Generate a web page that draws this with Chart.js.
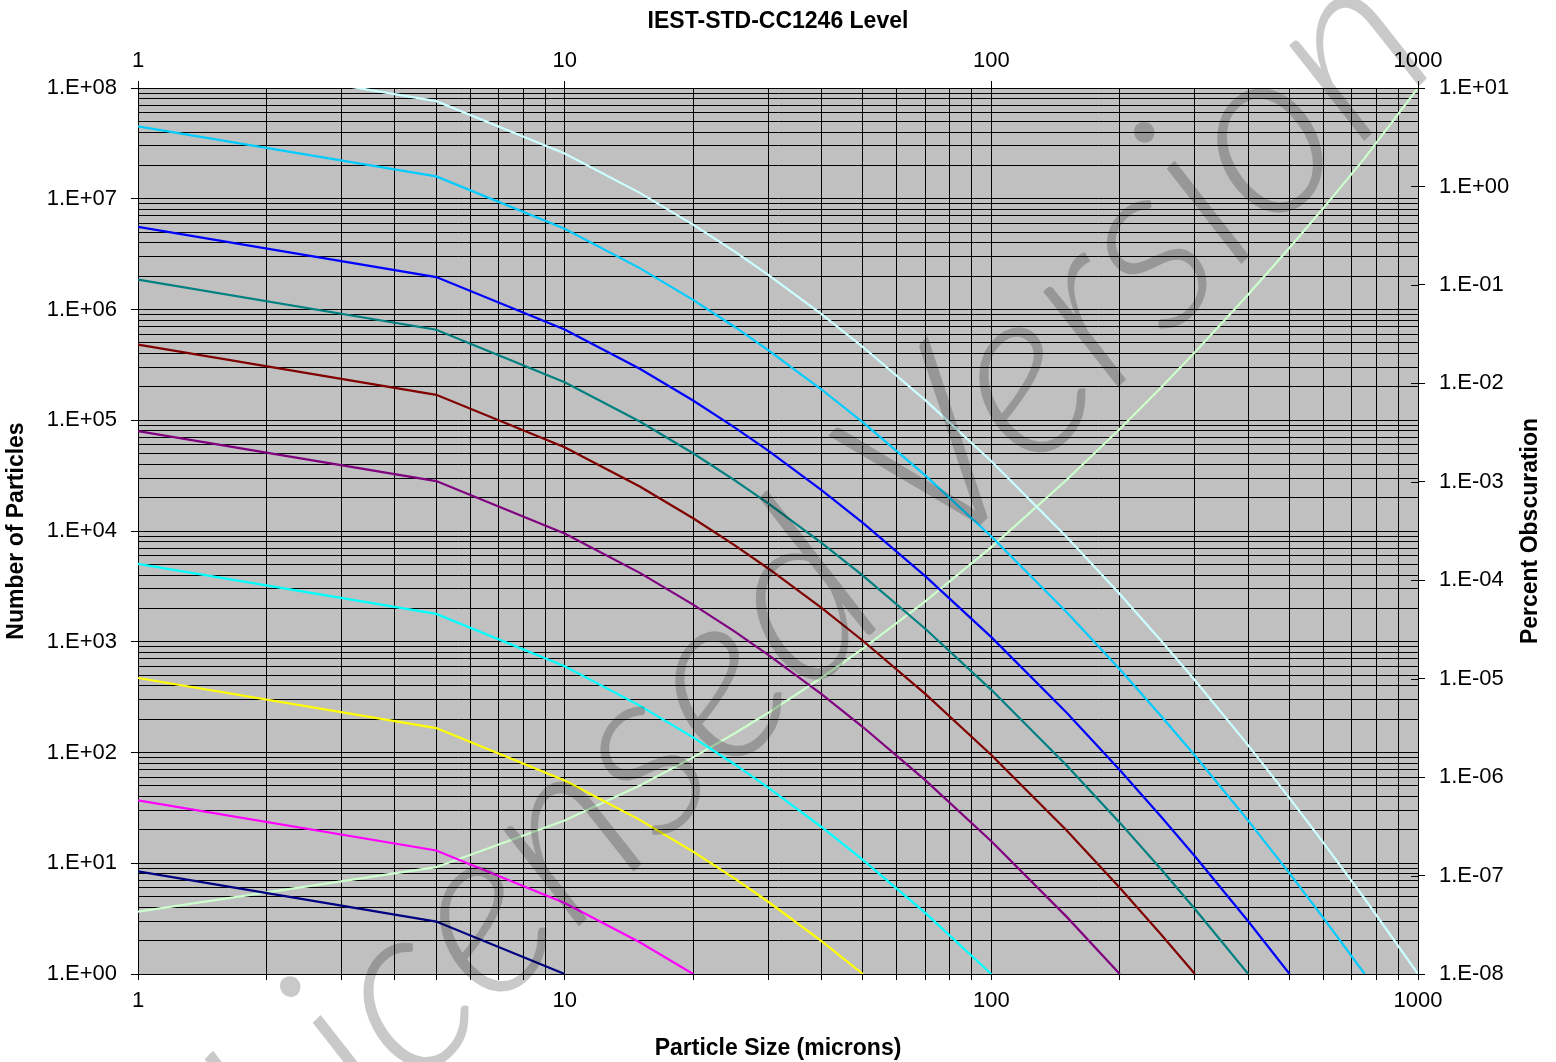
<!DOCTYPE html>
<html>
<head>
<meta charset="utf-8">
<script src="https://cdn.jsdelivr.net/npm/chart.js@4/dist/chart.umd.min.js"></script>
<style>
  html, body { margin: 0; padding: 0; background: #ffffff; }
  #wrap { width: 1556px; height: 1062px; position: relative; }
</style>
</head>
<body>
<div id="wrap"><canvas id="c" width="1556" height="1062"></canvas></div>
<script>
// ---------- data ----------
const sizes = [1, 5, 10, 15, 20, 25, 30, 40, 50, 70, 100, 150, 200, 250, 300, 400, 500, 600, 750, 1000];
const levels = [10, 20, 50, 100, 200, 300, 400, 500, 750, 1000];

const level10 = [8.433, 2.976, 1];
const level20 = [36.93, 13.03, 4.381, 1.935, 1];
const level50 = [470.9, 166.2, 55.83, 24.66, 12.75, 7.299, 4.492, 1.978, 1];
const level100 = [5058, 1785, 599.8, 265.0, 136.9, 78.40, 48.27, 21.25, 10.74, 3.561, 1];
const level200 = [79950, 28220, 9483, 4190, 2165, 1240, 762.7, 335.9, 169.8, 56.29, 15.81, 3.296, 1];
const level300 = [481000, 169700, 57030, 25190, 13020, 7455, 4587, 2020, 1021, 338.5, 95.07, 19.82, 6.013, 2.278, 1];
const level400 = [1861000, 656800, 220700, 97460, 50380, 28840, 17760, 7816, 3952, 1310, 367.9, 76.68, 23.27, 8.813, 3.870, 1];
const level500 = [5565000, 1963000, 659900, 291400, 150600, 86260, 53080, 23370, 11820, 3917, 1100, 229.3, 69.57, 26.35, 11.57, 2.990, 1];
const level750 = [45110000, 15920000, 5349000, 2363000, 1222000, 699200, 430400, 189500, 95800, 31760, 8918, 1859, 564.1, 213.6, 93.81, 24.25, 8.108, 3.216, 1];
const level1000 = [215800000, 76130000, 25590000, 11300000, 5843000, 3345000, 2058000, 906500, 458300, 151900, 42660, 8893, 2699, 1022, 448.7, 115.9, 38.78, 15.38, 4.783, 1];

// percent obscuration (right axis)
const obscuration = [4.30e-8, 1.217e-7, 3.62e-7, 8.20e-7, 1.586e-6, 2.771e-6, 4.50e-6, 1.022e-5, 2.022e-5, 6.10e-5, 2.173e-4, 1.042e-3, 3.435e-3, 9.07e-3, 2.065e-2, 7.99e-2, 0.2389, 0.6026, 1.938, 10];

// tick values and labels
const xMajorTicks = [1, 10, 100, 1000];
const xTickLabels = ['1', '10', '100', '1000'];
const yMajorTicks = [1, 10, 100, 1000, 1e4, 1e5, 1e6, 1e7, 1e8];
const yTickLabels = ['1.E+00', '1.E+01', '1.E+02', '1.E+03', '1.E+04', '1.E+05', '1.E+06', '1.E+07', '1.E+08'];
const y2MajorTicks = [1e-8, 1e-7, 1e-6, 1e-5, 1e-4, 1e-3, 1e-2, 1e-1, 1, 10];
const y2TickLabels = ['1.E-08', '1.E-07', '1.E-06', '1.E-05', '1.E-04', '1.E-03', '1.E-02', '1.E-01', '1.E+00', '1.E+01'];

// ---------- styles ----------
const levelSeries = [level10, level20, level50, level100, level200, level300, level400, level500, level750, level1000];
const levelColors = ['#000080', '#FF00FF', '#FFFF00', '#00FFFF', '#800080', '#800000', '#008080', '#0000FF', '#00CCFF', '#CCFFFF'];
const obscurationColor = '#CCFFCC';
const FAMILY = '"Liberation Sans", Arial, Helvetica, sans-serif';
const tickFont = { family: FAMILY, size: 22 };
const titleFont = { family: FAMILY, size: 23, weight: 'bold' };

function logTicks(vals, minor) {
  const t = [];
  for (let i = 0; i < vals.length; i++) {
    t.push({ value: vals[i], major: true });
    if (minor && i < vals.length - 1) {
      for (let m = 2; m <= 9; m++) t.push({ value: m * vals[i], major: false });
    }
  }
  return t;
}
function labelFor(v, vals, labels) {
  const idx = vals.findIndex(t => Math.abs(Math.log10(t) - Math.log10(v)) < 1e-9);
  return idx >= 0 ? labels[idx] : '';
}
const majorOnly = (c) => (c.tick && c.tick.major) ? '#000000' : 'rgba(0,0,0,0)';

const datasets = levelSeries.map((vals, i) => ({
  label: 'Level ' + levels[i],
  data: vals.map((v, j) => ({ x: sizes[j], y: v })),
  borderColor: levelColors[i],
  backgroundColor: levelColors[i],
  borderWidth: 2.2,
  pointRadius: 0,
  tension: 0,
  fill: false,
  xAxisID: 'x',
  yAxisID: 'y'
}));
datasets.push({
  label: 'Percent Obscuration',
  data: obscuration.map((v, j) => ({ x: sizes[j], y: v })),
  borderColor: obscurationColor,
  backgroundColor: obscurationColor,
  borderWidth: 2.2,
  pointRadius: 0,
  tension: 0,
  fill: false,
  xAxisID: 'x',
  yAxisID: 'y2'
});

const decor = {
  id: 'decor',
  beforeDraw(chart) {
    const { ctx, chartArea: a } = chart;
    ctx.save();
    ctx.fillStyle = '#C0C0C0';
    ctx.fillRect(a.left, a.top, a.right - a.left, a.bottom - a.top);
    ctx.restore();
  },
  afterDraw(chart) {
    const { ctx, chartArea: a } = chart;
    const y2 = chart.scales.y2;
    ctx.save();
    // inner half of right-axis ticks
    ctx.strokeStyle = '#000';
    ctx.lineWidth = 1;
    y2.ticks.forEach(t => {
      const py = Math.round(y2.getPixelForValue(t.value)) + 0.5;
      ctx.beginPath();
      ctx.moveTo(a.right - 7, py);
      ctx.lineTo(a.right, py);
      ctx.stroke();
    });
    // right axis title (reads bottom to top)
    ctx.fillStyle = '#000';
    ctx.font = 'bold 23px ' + FAMILY;
    ctx.textAlign = 'center';
    ctx.textBaseline = 'middle';
    ctx.translate(a.right + 113, (a.top + a.bottom) / 2);
    ctx.rotate(-Math.PI / 2);
    ctx.fillText('Percent Obscuration', 0, 0);
    ctx.restore();

    // watermark
    ctx.save();
    const text = 'Licensed Version';
    const wmFamily = 'Lato, "Open Sans", "DejaVu Sans", sans-serif';
    ctx.translate(830, 590);
    ctx.rotate(-45 * Math.PI / 180);
    ctx.font = 'italic 300 100px ' + wmFamily;
    const w = ctx.measureText(text).width;
    const size = 100 * 1620 / w;
    ctx.font = 'italic 300 ' + size + 'px ' + wmFamily;
    ctx.fillStyle = 'rgba(0,0,0,0.21)';
    ctx.textAlign = 'center';
    ctx.textBaseline = 'alphabetic';
    ctx.fillText(text, 0, size * 0.25);
    ctx.restore();
  }
};

new Chart(document.getElementById('c'), {
  type: 'line',
  data: { datasets },
  plugins: [decor],
  options: {
    responsive: false,
    animation: false,
    devicePixelRatio: 1,
    layout: { padding: 0 },
    plugins: { legend: { display: false }, tooltip: { enabled: false } },
    scales: {
      x: {
        type: 'logarithmic', position: 'bottom', min: 1, max: 1000,
        afterBuildTicks: s => { s.ticks = logTicks(xMajorTicks, true); },
        afterFit: s => { s.height = 88; },
        grid: { color: '#000', lineWidth: 1, tickLength: 6, tickColor: '#000', drawOnChartArea: true },
        border: { display: true, color: '#000', width: 1 },
        ticks: { autoSkip: false, maxRotation: 0, minRotation: 0, padding: 8, color: '#000', font: tickFont,
                 callback: (v) => labelFor(v, xMajorTicks, xTickLabels) },
        title: { display: true, text: 'Particle Size (microns)', color: '#000', font: titleFont, padding: { top: 0, bottom: 0 } }
      },
      x2: {
        type: 'logarithmic', position: 'top', min: 1, max: 1000,
        afterBuildTicks: s => { s.ticks = logTicks(xMajorTicks, false); },
        afterFit: s => { s.height = 88; },
        grid: { color: '#000', lineWidth: 1, tickLength: 7, drawOnChartArea: false },
        border: { display: true, color: '#000', width: 1 },
        ticks: { autoSkip: false, maxRotation: 0, minRotation: 0, padding: 7, color: '#000', font: tickFont,
                 callback: (v) => labelFor(v, xMajorTicks, xTickLabels) },
        title: { display: true, text: 'IEST-STD-CC1246 Level', color: '#000', font: titleFont, padding: { top: 8, bottom: 0 } }
      },
      y: {
        type: 'logarithmic', position: 'left', min: 1, max: 1e8,
        afterBuildTicks: s => { s.ticks = logTicks(yMajorTicks, true); },
        afterFit: s => { s.width = 138; },
        grid: { color: '#000', lineWidth: 1, tickLength: 7, tickColor: majorOnly, drawOnChartArea: true },
        border: { display: true, color: '#000', width: 1 },
        ticks: { autoSkip: false, padding: 14, color: '#000', font: tickFont,
                 callback: (v) => labelFor(v, yMajorTicks, yTickLabels) },
        title: { display: true, text: 'Number of Particles', color: '#000', font: titleFont, padding: { top: 3, bottom: 0 } }
      },
      y2: {
        type: 'logarithmic', position: 'right', min: 1e-8, max: 10,
        afterBuildTicks: s => { s.ticks = logTicks(y2MajorTicks, false); },
        afterFit: s => { s.width = 138; },
        grid: { color: '#000', lineWidth: 1, tickLength: 7, drawOnChartArea: false },
        border: { display: true, color: '#000', width: 1 },
        ticks: { autoSkip: false, padding: 14, color: '#000', font: tickFont,
                 callback: (v) => labelFor(v, y2MajorTicks, y2TickLabels) },
        title: { display: false }
      }
    }
  }
});
</script>
</body>
</html>
